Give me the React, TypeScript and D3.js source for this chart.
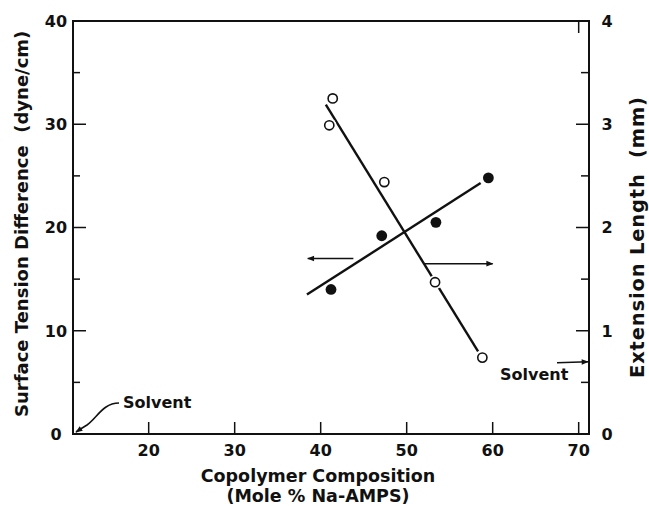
import React from "react";
import * as d3 from "d3";

// Surface tension difference (left axis, filled markers) vs copolymer composition
const tensionX = [41.2, 47.1, 53.4, 59.5];
const tensionY = [14.0, 19.2, 20.5, 24.8];
// Extension length (right axis, open markers)
const extensionX = [41.4, 41.0, 47.4, 53.3, 58.8];
const extensionY = [3.25, 2.99, 2.44, 1.47, 0.74];

// Fitted straight lines (end points)
const tensionFitX = [38.4, 58.6];
const tensionFitY = [13.5, 24.3];
const extensionFitX = [40.6, 58.3];
const extensionFitY = [3.19, 0.8];

// Axis ticks
const xTicks = [20, 30, 40, 50, 60, 70];
const leftTicks = [0, 10, 20, 30, 40];
const leftMinor = [5, 15, 25, 35];
const rightTicks = [0, 1, 2, 3, 4];
const rightMinor = [0.5, 1.5, 2.5, 3.5];

// Direction arrows telling which axis each series belongs to
const leftArrowX = [43.8, 38.5];
const leftArrowY = 17.0;
const rightArrowX = [52.1, 60.0];
const rightArrowY = 1.65;
// Solvent reference value on the extension axis
const solventExtension = 0.7;

const W = 649;
const H = 506;
const plot = { left: 73, right: 589, top: 21, bottom: 434 };
const FONT = "'DejaVu Sans', 'Liberation Sans', Arial, sans-serif";

export default function App() {
  const x = d3.scaleLinear().domain([11.2, 71.2]).range([plot.left, plot.right]);
  const yL = d3.scaleLinear().domain([0, 40]).range([plot.bottom, plot.top]);
  const yR = d3.scaleLinear().domain([0, 4]).range([plot.bottom, plot.top]);

  const line = d3.line<[number, number]>().x((d) => d[0]).y((d) => d[1]);
  const tensionFit = line(tensionFitX.map((v, i) => [x(v), yL(tensionFitY[i])]));
  const extensionFit = line(extensionFitX.map((v, i) => [x(v), yR(extensionFitY[i])]));

  const x0 = x(x.domain()[0]);
  const y0 = yL(0);
  const solventPath = d3.path();
  solventPath.moveTo(x0 + 46, y0 - 31);
  solventPath.bezierCurveTo(x0 + 30, y0 - 31, x0 + 24, y0 - 16, x0 + 14, y0 - 9);
  solventPath.bezierCurveTo(x0 + 9, y0 - 6, x0 + 6, y0 - 4, x0 + 3, y0 - 2);

  const textStyle = { fontFamily: FONT, fontWeight: 700, fill: "#111" } as const;

  return (
    <svg
      width={W}
      height={H}
      viewBox={`0 0 ${W} ${H}`}
      style={{ position: "absolute", left: 0, top: 0, background: "#fff" }}
    >
      <defs>
        <marker id="head" viewBox="0 0 10 10" refX="9" refY="5" markerWidth="9" markerHeight="7" markerUnits="userSpaceOnUse" orient="auto">
          <path d="M0,1 L10,5 L0,9 Z" fill="#111" />
        </marker>
      </defs>
      <rect width={W} height={H} fill="#fff" />

      {/* frame */}
      <rect
        x={plot.left}
        y={plot.top}
        width={plot.right - plot.left}
        height={plot.bottom - plot.top}
        fill="none"
        stroke="#111"
        strokeWidth={2}
      />

      {/* bottom ticks */}
      {xTicks.map((t) => (
        <line key={`xb${t}`} x1={x(t)} x2={x(t)} y1={plot.bottom} y2={plot.bottom - 12} stroke="#111" strokeWidth={1.5} />
      ))}
      {/* top tick at the last value */}
      <line x1={x(70)} x2={x(70)} y1={plot.top} y2={plot.top + 12} stroke="#111" strokeWidth={1.5} />
      {xTicks.map((t) => (
        <text key={`xl${t}`} x={x(t)} y={456} textAnchor="middle" fontSize={16} style={textStyle}>
          {t}
        </text>
      ))}

      {/* left axis ticks */}
      {leftTicks.map((t) => (
        <line key={`yl${t}`} x1={plot.left} x2={plot.left + 13} y1={yL(t)} y2={yL(t)} stroke="#111" strokeWidth={1.5} />
      ))}
      {leftMinor.map((t) => (
        <line key={`ylm${t}`} x1={plot.left} x2={plot.left + 7} y1={yL(t)} y2={yL(t)} stroke="#111" strokeWidth={1.5} />
      ))}
      {leftTicks.map((t) => (
        <text key={`yll${t}`} x={56} y={yL(t)} dy="0.36em" textAnchor="middle" fontSize={16} style={textStyle}>
          {t}
        </text>
      ))}

      {/* right axis ticks */}
      {rightTicks.map((t) => (
        <line key={`yr${t}`} x1={plot.right} x2={plot.right - 13} y1={yR(t)} y2={yR(t)} stroke="#111" strokeWidth={1.5} />
      ))}
      {rightMinor.map((t) => (
        <line key={`yrm${t}`} x1={plot.right} x2={plot.right - 8} y1={yR(t)} y2={yR(t)} stroke="#111" strokeWidth={1.5} />
      ))}
      {rightTicks.map((t) => (
        <text key={`yrl${t}`} x={607} y={yR(t)} dy="0.36em" textAnchor="middle" fontSize={16} style={textStyle}>
          {t}
        </text>
      ))}

      {/* axis titles */}
      <text
        transform="translate(22,417) rotate(-90)"
        textAnchor="start"
        dy="0.36em"
        fontSize={18}
        style={textStyle}
        xmlSpace="preserve"
      >
        {"Surface Tension Difference  (dyne/cm)"}
      </text>
      <text
        transform="translate(637,378) rotate(-90)"
        textAnchor="start"
        dy="0.36em"
        fontSize={19.5}
        textLength={281}
        lengthAdjust="spacing"
        style={textStyle}
        xmlSpace="preserve"
      >
        {"Extension Length  (mm)"}
      </text>
      <text x={318} y={482} textAnchor="middle" fontSize={17.5} style={textStyle}>
        Copolymer Composition
      </text>
      <text x={318} y={502} textAnchor="middle" fontSize={17.5} style={textStyle}>
        (Mole % Na-AMPS)
      </text>

      {/* fitted lines */}
      <path d={tensionFit ?? ""} fill="none" stroke="#111" strokeWidth={2.4} />
      <path d={extensionFit ?? ""} fill="none" stroke="#111" strokeWidth={2.4} />

      {/* markers */}
      {extensionX.map((v, i) => (
        <circle key={`eh${i}`} cx={x(v)} cy={yR(extensionY[i])} r={7} fill="#fff" />
      ))}
      {extensionX.map((v, i) => (
        <circle key={`e${i}`} cx={x(v)} cy={yR(extensionY[i])} r={4.6} fill="#fff" stroke="#111" strokeWidth={1.6} />
      ))}
      {tensionX.map((v, i) => (
        <circle key={`t${i}`} cx={x(v)} cy={yL(tensionY[i])} r={5.4} fill="#111" />
      ))}

      {/* axis direction arrows */}
      <line
        x1={x(leftArrowX[0])}
        x2={x(leftArrowX[1])}
        y1={yL(leftArrowY)}
        y2={yL(leftArrowY)}
        stroke="#111"
        strokeWidth={1.5}
        markerEnd="url(#head)"
      />
      <line
        x1={x(rightArrowX[0])}
        x2={x(rightArrowX[1])}
        y1={yR(rightArrowY)}
        y2={yR(rightArrowY)}
        stroke="#111"
        strokeWidth={1.5}
        markerEnd="url(#head)"
      />

      {/* solvent annotations */}
      <path d={solventPath.toString()} fill="none" stroke="#111" strokeWidth={1.6} markerEnd="url(#head)" />
      <text x={123} y={408} fontSize={16} style={textStyle}>
        Solvent
      </text>
      <line
        x1={557}
        x2={plot.right - 1}
        y1={yR(solventExtension) + 1}
        y2={yR(solventExtension)}
        stroke="#111"
        strokeWidth={1.5}
        markerEnd="url(#head)"
      />
      <text x={500} y={380} fontSize={16} style={textStyle}>
        Solvent
      </text>
    </svg>
  );
}
